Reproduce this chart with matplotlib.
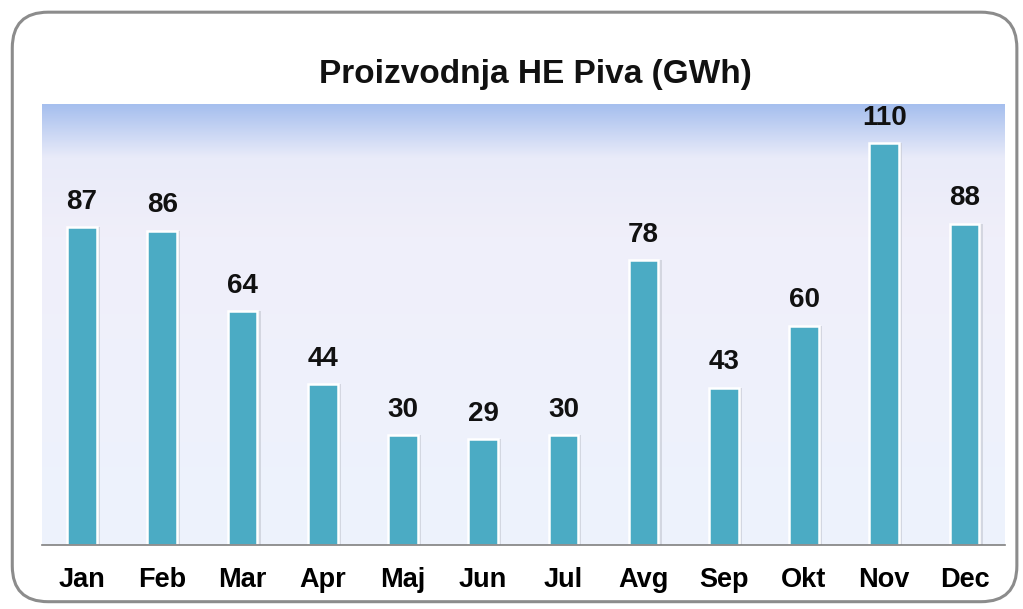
import matplotlib.pyplot as plt
import numpy as np
from matplotlib.patches import FancyBboxPatch
from matplotlib.colors import LinearSegmentedColormap

months = ['Jan', 'Feb', 'Mar', 'Apr', 'Maj', 'Jun', 'Jul', 'Avg', 'Sep', 'Okt', 'Nov', 'Dec']
values = [87, 86, 64, 44, 30, 29, 30, 78, 43, 60, 110, 88]

plt.rcParams['font.family'] = ['Liberation Sans', 'DejaVu Sans']

fig = plt.figure(figsize=(10.23, 6.09), dpi=100)

# rounded frame around the whole chart
frame = FancyBboxPatch((0.012, 0.012), 0.982, 0.968, boxstyle='round,pad=0,rounding_size=0.035',
                       transform=fig.transFigure, facecolor='white', edgecolor='#8c8c8c',
                       linewidth=2.2, mutation_aspect=1023 / 609, zorder=-5)
fig.patches.append(frame)

ax = fig.add_axes([0.041, 0.105, 0.941, 0.724])
ax.set_facecolor('none')
ax.set_zorder(2)

# gradient background: blue at top fading to pale lavender
cmap = LinearSegmentedColormap.from_list('bg', [(0, '#edf3fd'), (0.7, '#f0effa'), (0.88, '#e9ebf9'), (1, '#a6bfee')])
grad = np.linspace(0, 1, 256).reshape(-1, 1)
ax.imshow(grad, aspect='auto', cmap=cmap, origin='lower', extent=[0, 1, 0, 1],
          transform=ax.transAxes, zorder=0)

x = np.arange(len(months))
ax.bar(x + 0.02, values, width=0.41, color='#c9ccd6', alpha=0.7, zorder=1)
ax.bar(x, values, width=0.37, color='#4babc4', edgecolor='white', linewidth=1.8, zorder=2)

for xi, v in zip(x, values):
    ax.annotate(str(v), (xi, v), xytext=(0, 9), textcoords='offset points',
                ha='center', va='bottom', fontsize=20, fontweight='bold', color='#111111')

ax.set_xlim(-0.5, len(months) - 0.5)
ax.set_ylim(0, 120.7)
ax.set_xticks(x)
ax.set_xticklabels(months, fontsize=19.5, fontweight='bold')
ax.tick_params(axis='x', length=0, pad=16)
ax.set_yticks([])
for s in ['top', 'right', 'left']:
    ax.spines[s].set_visible(False)
ax.spines['bottom'].set_color('#808080')
ax.spines['bottom'].set_linewidth(1.2)

fig.text(0.523, 0.877, 'Proizvodnja HE Piva (GWh)', ha='center', va='center',
         fontsize=24, fontweight='bold', color='#111111')

fig.savefig('out.png', dpi=100)
